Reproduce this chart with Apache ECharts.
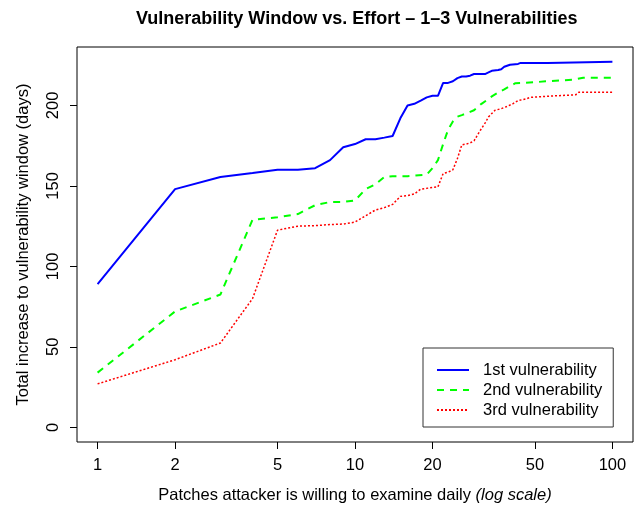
<!DOCTYPE html>
<html>
<head>
<meta charset="utf-8">
<script src="https://cdn.jsdelivr.net/npm/echarts@6/dist/echarts.min.js"></script>
<style>
html,body{margin:0;padding:0;background:#fff;}
#chart{width:634px;height:506px;}
</style>
</head>
<body>
<div id="chart"></div>
<script>
var seriesNames = ['1st vulnerability', '2nd vulnerability', '3rd vulnerability'];

var vuln1X = [1, 2, 3, 4, 5, 6, 7, 8, 9, 10, 11, 12, 13, 14, 15, 16, 17, 18, 19, 20, 21, 22, 23, 24, 25, 26, 27, 28, 29, 30, 32, 33, 34, 36, 37, 38, 40, 43, 44, 56, 57, 100];
var vuln1Y = [89, 148, 155.5, 158, 160, 160, 161, 166, 174, 176, 179, 179, 180, 181, 192, 200, 201, 203, 205, 206, 206, 214, 214, 215, 217, 218, 218, 218.5, 219.5, 219.5, 219.5, 220.5, 221.5, 222, 222.5, 224, 225.3, 225.8, 226.4, 226.4, 227.2, 227.2];

var vuln2X = [1, 2, 3, 4, 5, 6, 7, 8, 9, 10, 11, 12, 13, 14, 16, 19, 20, 21, 22, 23, 24, 25, 26, 28, 29, 30, 31, 33, 34, 36, 38, 40, 42, 45, 50, 55, 70, 77, 100];
var vuln2Y = [34, 72, 82.5, 129, 130.5, 132.5, 138, 140, 140, 141, 148, 151, 155.5, 156, 156, 157, 161, 166, 176, 185, 190, 193, 194, 196, 197, 199, 201, 204, 205.6, 208, 210, 212, 213.8, 214, 214.4, 215, 216, 217.2, 217.2];

var vuln3X = [1, 2, 3, 4, 5, 6, 7, 8, 9, 10, 11, 12, 13, 14, 15, 16, 17, 18, 19, 20, 21, 22, 23, 24, 25, 26, 27, 28, 29, 30, 31, 32, 33, 34, 35, 37, 39, 41, 43, 46, 48, 57, 72, 74, 100];
var vuln3Y = [27, 42, 52.4, 80, 122.5, 125, 125.3, 126, 126.3, 127.5, 131.5, 135, 136.5, 138.5, 143.5, 144, 145, 148, 148.5, 149, 149.4, 157.7, 158.5, 160, 167, 175.5, 176, 176.7, 178, 182, 185.6, 189, 192.8, 195, 197, 198, 199.4, 201, 203, 204, 205, 205.8, 206.6, 208.2, 208.2];

var xTicks = [1, 2, 5, 10, 20, 50, 100];
var yTicks = [0, 50, 100, 150, 200];

function zip(xs, ys) { return xs.map(function (x, i) { return [x, ys[i]]; }); }

var FONT = 'Liberation Sans, Arial, sans-serif';
var FS = 16.5;
var chart = echarts.init(document.getElementById('chart'), null, {renderer: 'canvas'});
chart.setOption({
  animation: false,
  backgroundColor: '#ffffff',
  textStyle: {fontFamily: FONT, color: '#000'},
  title: {
    text: 'Vulnerability Window vs. Effort \u2013 1\u20133 Vulnerabilities',
    left: 131, top: 5,
    textStyle: {fontFamily: FONT, fontSize: 18, fontWeight: 'bold', color: '#000'}
  },
  grid: {left: 77, top: 47, width: 556, height: 395, show: true, borderColor: '#000', borderWidth: 1, backgroundColor: 'transparent', outerBoundsMode: 'none', containLabel: false},
  legend: {
    orient: 'vertical',
    left: 423, top: 348,
    data: seriesNames,
    borderColor: '#333', borderWidth: 1, borderRadius: 0,
    padding: [12, 11, 7, 13],
    itemWidth: 32, itemHeight: 20, itemGap: 0,
    itemStyle: {opacity: 0},
    textStyle: {fontFamily: FONT, fontSize: FS, color: '#000', padding: [0, 0, 0, 9], lineHeight: 20}
  },
  xAxis: {
    type: 'log', logBase: 10,
    min: 0.8318, max: 120.23,
    name: 'Patches attacker is willing to examine daily {i|(log scale)}',
    nameLocation: 'middle', nameGap: 45,
    nameTextStyle: {fontFamily: FONT, fontSize: FS, color: '#000', rich: {i: {fontFamily: FONT, fontSize: FS, fontStyle: 'italic', color: '#000'}}},
    axisLine: {show: false, onZero: false},
    axisTick: {show: true, inside: false, length: 7, lineStyle: {color: '#000'}, customValues: xTicks},
    axisLabel: {fontFamily: FONT, fontSize: FS, color: '#000', margin: 15, customValues: xTicks, formatter: function (v) { return String(Math.round(v)); }},
    splitLine: {show: false}
  },
  yAxis: {
    type: 'value',
    min: -9.1, max: 236.3,
    name: 'Total increase to vulnerability window (days)',
    nameLocation: 'middle', nameGap: 45,
    nameTextStyle: {fontFamily: FONT, fontSize: FS, color: '#000'},
    axisLine: {show: false, onZero: false},
    axisTick: {show: true, inside: false, length: 7, lineStyle: {color: '#000'}, customValues: yTicks},
    axisLabel: {fontFamily: FONT, fontSize: FS, color: '#000', rotate: 90, margin: 15, customValues: yTicks},
    splitLine: {show: false}
  },
  series: [
    {name: seriesNames[0], type: 'line', data: zip(vuln1X, vuln1Y), symbol: 'none', lineStyle: {color: '#0000ff', width: 2, type: 'solid'}, itemStyle: {color: '#0000ff'}},
    {name: seriesNames[1], type: 'line', data: zip(vuln2X, vuln2Y), symbol: 'none', lineStyle: {color: '#00ff00', width: 2, type: [7, 6]}, itemStyle: {color: '#00ff00'}},
    {name: seriesNames[2], type: 'line', data: zip(vuln3X, vuln3Y), symbol: 'none', lineStyle: {color: '#ff0000', width: 1.5, type: [2, 2]}, itemStyle: {color: '#ff0000'}}
  ]
});
</script>
</body>
</html>
